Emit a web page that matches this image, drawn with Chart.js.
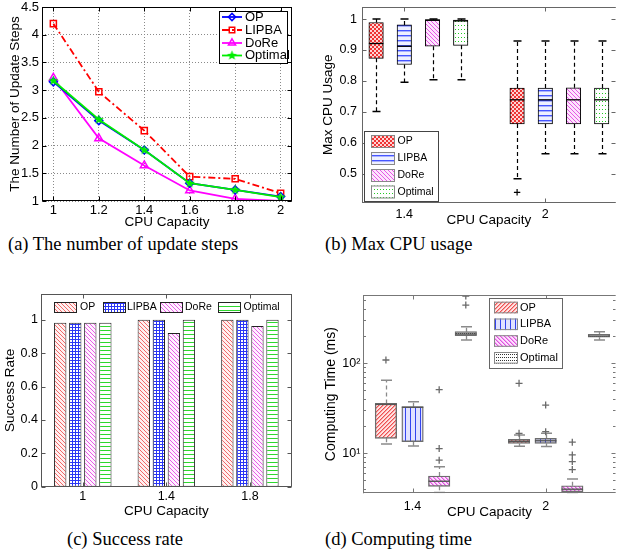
<!DOCTYPE html>
<html><head><meta charset="utf-8">
<script src="https://cdn.jsdelivr.net/npm/chart.js@4.4.1/dist/chart.umd.min.js"></script>
<style>
html,body{margin:0;padding:0;background:#fff;}
body{width:621px;height:558px;position:relative;overflow:hidden;}
canvas{position:absolute;}
.cap{position:absolute;font-family:"Liberation Serif","Times New Roman",serif;font-size:18.5px;line-height:1;white-space:nowrap;color:#000;}
</style></head><body>
<canvas id="ca" width="310" height="232" style="left:0;top:0"></canvas>
<canvas id="cb" width="311" height="232" style="left:310px;top:0"></canvas>
<canvas id="cc" width="310" height="240" style="left:0;top:282px"></canvas>
<canvas id="cd" width="311" height="240" style="left:310px;top:282px"></canvas>
<div class="cap" style="left:8px;top:235px">(a) The number of update steps</div>
<div class="cap" style="left:325px;top:235px">(b) Max CPU usage</div>
<div class="cap" style="left:67px;top:530px">(c) Success rate</div>
<div class="cap" style="left:325px;top:530px">(d) Computing time</div>
<script>
// ---------------- DATA ----------------
const methods = ['OP','LIPBA','DoRe','Optimal'];

// (a) number of update steps
const aCapacity = [1, 1.2, 1.4, 1.6, 1.8, 2];
const aXLabels  = ['1','1.2','1.4','1.6','1.8','2'];
const aYTicks   = [1, 1.5, 2, 2.5, 3, 3.5, 4, 4.5];
const aYLabels  = ['1','1.5','2','2.5','3','3.5','4','4.5'];
const aOP       = [3.15, 2.45, 1.92, 1.32, 1.20, 1.08];
const aLIPBA    = [4.20, 2.97, 2.27, 1.44, 1.40, 1.14];
const aDoRe     = [3.22, 2.13, 1.64, 1.19, 1.04, 1.00];
const aOptimal  = [3.17, 2.47, 1.92, 1.32, 1.20, 1.07];

// (b) max CPU usage, per method: [capacity 1.4, capacity 2]
const bGroups  = ['1.4','2'];
const bYTicks  = [0.5, 0.6, 0.7, 0.8, 0.9, 1];
const bYLabels = ['0.5','0.6','0.7','0.8','0.9','1'];
const bLow  = [[0.701,0.484],[0.796,0.565],[0.804,0.565],[0.804,0.565]];
const bQ1   = [[0.873,0.661],[0.853,0.661],[0.912,0.661],[0.915,0.661]];
const bMed  = [[0.921,0.739],[0.912,0.739],[0.996,0.739],[0.994,0.739]];
const bQ3   = [[0.989,0.777],[0.981,0.777],[0.998,0.778],[0.997,0.777]];
const bHigh = [[1.0,0.929],[1.0,0.929],[1.0,0.929],[1.0,0.929]];
const bOut  = [[[],[0.44]],[[],[]],[[],[]],[[],[]]];

// (c) success rate
const cCapacity = ['1','1.4','1.8'];
const cYTicks   = [0, 0.2, 0.4, 0.6, 0.8, 1];
const cYLabels  = ['0','0.2','0.4','0.6','0.8','1'];
const cOP       = [0.982, 1, 1];
const cLIPBA    = [0.982, 1, 1];
const cDoRe     = [0.982, 0.921, 0.962];
const cOptimal  = [0.982, 1, 1];

// (d) computing time (ms), per method: [capacity 1.4, capacity 2]
const dGroups = ['1.4','2'];
const dLow  = [[12.7,12.0],[12.1,11.9],[3.68,3.62],[182,182]];
const dQ1   = [[14.7,12.9],[13.5,12.9],[4.3,3.75],[203,195]];
const dMed  = [[35.0,13.6],[32.5,13.8],[4.9,4.0],[212,201]];
const dQ3   = [[35.9,14.3],[33.0,14.7],[5.6,4.37],[225,210]];
const dHigh = [[65,16.0],[37.4,16.7],[7.1,5.2],[255,225]];
const dOut  = [[[109],[16.7,60]],[[],[17.4,34.4]],[[8.4,11.3,51],[6.6,8.1,9.6,13.3]],[[444,560],[]]];
const dMajorTicks  = [10, 100];
const dMajorLabels = ['10\u00B9','10\u00B2'];

// ---------------- SETUP ----------------
Chart.defaults.font.family = '"Liberation Sans", Arial, Helvetica, sans-serif';
Chart.defaults.font.size = 13;
Chart.defaults.color = '#000';
Chart.defaults.animation = false;
Chart.defaults.events = [];
Chart.defaults.plugins.legend.display = false;
Chart.defaults.plugins.tooltip.enabled = false;

function pat(w,h,bg,draw){const c=document.createElement('canvas');c.width=w;c.height=h;const g=c.getContext('2d');g.fillStyle=bg;g.fillRect(0,0,w,h);draw(g);return g.createPattern(c,'repeat');}
const px=(g,col,pts)=>{g.fillStyle=col;pts.forEach(p=>g.fillRect(p[0],p[1],p[2]||1,p[3]||1));};
const back4=[[0,0],[1,1],[2,2],[3,3]], fwd4=[[3,0],[2,1],[1,2],[0,3]];

const bPat=[
  pat(4,4,'#ffd4d4',g=>px(g,'#ee3434',[[0,0,2,2],[2,2,2,2]])),
  pat(1,5,'#eef0ff',g=>{px(g,'#4656ff',[[0,0]]);px(g,'#a9b1ff',[[0,1]]);}),
  pat(4,4,'#fde4fd',g=>px(g,'#e55ae5',back4)),
  pat(3,4,'#ffffff',g=>px(g,'#22cc22',[[1,1]]))
];
const cPat=[
  pat(4,4,'#fff0f0',g=>px(g,'#f06a6a',back4)),
  pat(3,3,'#ffffff',g=>px(g,'#2a36f5',[[0,0,3,1],[0,0,1,3]])),
  pat(4,4,'#fff0ff',g=>px(g,'#e660e6',back4)),
  pat(1,4,'#ffffff',g=>px(g,'#2ed82e',[[0,0]]))
];
const dPat=[
  pat(4,4,'#ffe2e2',g=>{px(g,'#ee5050',fwd4);px(g,'#f7a0a0',[[0,0],[3,1],[2,2],[1,3]]);}),
  pat(5,1,'#e0e2ff',g=>px(g,'#3344ee',[[0,0]])),
  pat(4,4,'#fde0fd',g=>{px(g,'#e050e0',back4);px(g,'#f0a0f0',[[1,0],[2,1],[3,2],[0,3]]);}),
  pat(2,3,'#ffffff',g=>px(g,'#333333',[[0,0]]))
];

function starImg(col,R,r){const s=Math.ceil(R*2)+2;const c=document.createElement('canvas');c.width=c.height=s;const g=c.getContext('2d');g.fillStyle=col;g.beginPath();for(let k=0;k<10;k++){const an=-Math.PI/2+k*Math.PI/5;const rr=k%2?r:R;g.lineTo(s/2+rr*Math.cos(an),s/2+rr*Math.sin(an));}g.closePath();g.fill();return c;}
const star = starImg('#00ee00',5.2,2.2);

// ---------------- PLUGINS ----------------
const frameTicks={
  id:'frameTicks',
  afterDatasetsDraw(chart,args,o){
    if(!o||!o.color) return;
    const {ctx,chartArea:a}=chart; const xs=chart.scales.x, ys=chart.scales.y;
    const L=o.len, Lm=o.minorLen||o.len;
    const l=Math.round(a.left)+0.5, r=Math.round(a.right)-0.5, t=Math.round(a.top)+0.5, b=Math.round(a.bottom)-0.5;
    ctx.save(); ctx.lineWidth=1; ctx.strokeStyle=o.color; ctx.setLineDash([]);
    ctx.beginPath();
    xs.ticks.forEach(tk=>{const x=Math.round(xs.getPixelForValue(tk.value))+0.5;ctx.moveTo(x,b);ctx.lineTo(x,b-L);ctx.moveTo(x,t);ctx.lineTo(x,t+L);});
    ys.ticks.forEach(tk=>{const y=Math.round(ys.getPixelForValue(tk.value))+0.5;const len=tk.major===false?Lm:L;ctx.moveTo(l,y);ctx.lineTo(l+len,y);ctx.moveTo(r,y);ctx.lineTo(r-len,y);});
    ctx.stroke();
    ctx.beginPath();
    const s=o.sides;
    if(s.includes('t')){ctx.moveTo(a.left,t);ctx.lineTo(a.right,t);}
    if(s.includes('b')){ctx.moveTo(a.left,b);ctx.lineTo(a.right,b);}
    if(s.includes('l')){ctx.moveTo(l,a.top);ctx.lineTo(l,a.bottom);}
    if(s.includes('r')){ctx.moveTo(r,a.top);ctx.lineTo(r,a.bottom);}
    ctx.stroke(); ctx.restore();
  }
};

const boxWhiskers={
  id:'boxWhiskers',
  beforeDatasetsDraw(chart,args,o){
    if(!o||!o.boxes) return;
    const {ctx,chartArea:a}=chart; const xs=chart.scales.x, ys=chart.scales.y;
    ctx.save(); ctx.beginPath(); ctx.rect(a.left,a.top-2,a.right-a.left,a.bottom-a.top+2); ctx.clip();
    o.boxes.forEach(bx=>bx.x.forEach((xv,i)=>{
      const x=Math.round(xs.getPixelForValue(xv))+0.5;
      const yLo=ys.getPixelForValue(bx.lo[i]), yQ1=ys.getPixelForValue(bx.q1[i]), yQ3=ys.getPixelForValue(bx.q3[i]), yHi=ys.getPixelForValue(bx.hi[i]);
      ctx.strokeStyle=o.color; ctx.lineWidth=o.lw; ctx.setLineDash(o.dash);
      ctx.beginPath(); ctx.moveTo(x,yQ3); ctx.lineTo(x,yHi); ctx.moveTo(x,yQ1); ctx.lineTo(x,yLo); ctx.stroke();
      ctx.setLineDash([]); ctx.lineWidth=o.capW;
      ctx.beginPath(); ctx.moveTo(x-o.cap/2,yHi); ctx.lineTo(x+o.cap/2,yHi); ctx.moveTo(x-o.cap/2,yLo); ctx.lineTo(x+o.cap/2,yLo); ctx.stroke();
    }));
    ctx.restore();
  },
  afterDatasetsDraw(chart,args,o){
    if(!o||!o.boxes) return;
    const {ctx}=chart; const xs=chart.scales.x, ys=chart.scales.y;
    ctx.save(); ctx.strokeStyle=o.medColor; ctx.lineWidth=o.medW;
    o.boxes.forEach(bx=>bx.x.forEach((xv,i)=>{
      const x=xs.getPixelForValue(xv), y=ys.getPixelForValue(bx.med[i]);
      ctx.beginPath(); ctx.moveTo(x-o.boxW/2,y); ctx.lineTo(x+o.boxW/2,y); ctx.stroke();
    }));
    ctx.restore();
  }
};

const boxLegend={
  id:'boxLegend',
  afterDraw(chart,args,o){
    if(!o||!o.items) return;
    const ctx=chart.ctx; ctx.save();
    if(o.box){ctx.fillStyle='#fff';ctx.fillRect(o.box[0],o.box[1],o.box[2],o.box[3]);ctx.strokeStyle=o.boxColor;ctx.lineWidth=1;ctx.strokeRect(o.box[0]+0.5,o.box[1]+0.5,o.box[2],o.box[3]);}
    ctx.font=o.font; ctx.textBaseline='middle'; ctx.textAlign='left';
    o.items.forEach(it=>{
      if(it.line){
        ctx.strokeStyle=it.color; ctx.lineWidth=it.lw; ctx.setLineDash(it.dash||[]);
        ctx.beginPath(); ctx.moveTo(it.x1,it.y); ctx.lineTo(it.x2,it.y); ctx.stroke(); ctx.setLineDash([]);
        const mx=(it.x1+it.x2)/2;
        if(it.img){ctx.drawImage(it.img,mx-it.img.width/2,it.y-it.img.height/2);}
        else{ctx.lineWidth=it.pbw;ctx.strokeStyle=it.color;ctx.fillStyle='rgba(0,0,0,0)';Chart.helpers.drawPoint(ctx,{pointStyle:it.style,radius:it.r,rotation:0,borderWidth:it.pbw},mx,it.y);}
      } else {
        ctx.fillStyle=it.fill; ctx.fillRect(it.px,it.py,it.pw,it.ph);
        ctx.strokeStyle=it.stroke; ctx.lineWidth=1; ctx.strokeRect(it.px+0.5,it.py+0.5,it.pw-1,it.ph-1);
      }
      ctx.fillStyle='#000'; ctx.fillText(it.text,it.tx,it.y);
    });
    ctx.restore();
  }
};
const plugins=[frameTicks,boxWhiskers,boxLegend];

function fixTicks(vals){return s=>{s.ticks=vals.map(v=>({value:v}));};}
function lab(vals,labels){return v=>{const i=vals.findIndex(t=>Math.abs(t-v)<1e-9);return i<0?'':labels[i];};}
function noPad(w,h){return s=>{if(w!=null)s.width=w;if(h!=null)s.height=h;s.paddingTop=0;s.paddingBottom=0;s.paddingLeft=0;s.paddingRight=0;};}

// ---------------- (a) ----------------
const aCol={OP:'#0000ff',LIPBA:'#ff0000',DoRe:'#ff00ff',Optimal:'#00ee00'};
const aStyle={OP:['rectRot',4],LIPBA:['rect',4.3],DoRe:['triangle',4.6],Optimal:[star,4]};
const aVals={OP:aOP,LIPBA:aLIPBA,DoRe:aDoRe,Optimal:aOptimal};
const aDash={LIPBA:[7,3,2,3]};
const aOrder=['Optimal','OP','DoRe','LIPBA'];
new Chart(document.getElementById('ca'),{
  type:'line',
  data:{datasets:aOrder.map(m=>({label:m,data:aCapacity.map((x,i)=>({x,y:aVals[m][i]})),
    borderColor:aCol[m],backgroundColor:'transparent',borderWidth:1.8,borderDash:aDash[m]||[],
    pointStyle:aStyle[m][0],pointRadius:aStyle[m][1],pointBorderColor:aCol[m],pointBackgroundColor:'rgba(0,0,0,0)',pointBorderWidth:1.5,tension:0}))},
  options:{responsive:false,layout:{padding:{top:7,right:18,left:0,bottom:0}},
    scales:{
      x:{type:'linear',min:0.95,max:2.05,afterBuildTicks:fixTicks(aCapacity),afterFit:noPad(null,31),
        ticks:{autoSkip:false,maxRotation:0,padding:2,font:{size:13},callback:lab(aCapacity,aXLabels)},
        grid:{color:'#8a8a8a',lineWidth:1,drawTicks:false},border:{display:false,dash:[1,2]},
        title:{display:true,text:'CPU Capacity',font:{size:13.5,lineHeight:1.2},padding:{top:0,bottom:1.2}}},
      y:{type:'linear',min:1,max:4.5,afterBuildTicks:fixTicks(aYTicks),afterFit:noPad(42,null),
        ticks:{autoSkip:false,padding:3,font:{size:13},callback:lab(aYTicks,aYLabels)},
        grid:{color:'#8a8a8a',lineWidth:1,drawTicks:false},border:{display:false,dash:[1,2]},
        title:{display:true,text:'The Number of Update Steps',font:{size:13.5,lineHeight:1.2},padding:{top:6.9,bottom:0}}}
    },
    plugins:{
      frameTicks:{color:'#000',len:4,sides:'tblr'},
      boxLegend:{box:[219,11,68,52],boxColor:'#000',font:'13px "Liberation Sans", Arial',
        items:methods.map((m,k)=>({line:true,text:m,color:aCol[m],lw:1.8,dash:aDash[m],x1:222,x2:242,y:[17,30,43,55.5][k],tx:245,
          style:aStyle[m][0],r:aStyle[m][1]*0.9,pbw:1.5,img:m==='Optimal'?star:null}))}
    }
  },
  plugins
});

// ---------------- (b) ----------------
const posOf=(m,g)=>1+m+5*g;
const bTickPos=bGroups.map((g,gi)=>posOf(1,gi));
new Chart(document.getElementById('cb'),{
  type:'bar',
  data:{datasets:[
    ...methods.map((m,k)=>({type:'bar',label:m,data:bGroups.map((g,gi)=>({x:posOf(k,gi),y:[bQ1[k][gi],bQ3[k][gi]]})),
      backgroundColor:bPat[k],borderColor:'#000',borderWidth:1,borderSkipped:false,barThickness:14.5,grouped:false})),
    {type:'scatter',label:'outliers',data:methods.flatMap((m,k)=>bGroups.flatMap((g,gi)=>bOut[k][gi].map(v=>({x:posOf(k,gi),y:v})))),
      pointStyle:'cross',pointRadius:3.2,borderColor:'#000',borderWidth:1.2,backgroundColor:'#000'}
  ]},
  options:{responsive:false,layout:{padding:{top:7,right:0,left:0,bottom:0}},
    scales:{
      x:{type:'linear',min:0.5,max:9.5,offset:false,afterBuildTicks:fixTicks(bTickPos),afterFit:noPad(null,29.5),
        ticks:{autoSkip:false,maxRotation:0,padding:4.5,font:{size:12.5},callback:lab(bTickPos,bGroups)},
        grid:{display:false,drawTicks:false},border:{display:false},
        title:{display:true,text:'CPU Capacity',font:{size:13.5,lineHeight:1.2},padding:{top:0,bottom:3.9}}},
      y:{type:'linear',min:0.407,max:1.039,afterBuildTicks:fixTicks(bYTicks),afterFit:noPad(52,null),
        ticks:{autoSkip:false,padding:5,font:{size:12.5},callback:lab(bYTicks,bYLabels)},
        grid:{display:false,drawTicks:false},border:{display:false},
        title:{display:true,text:'Max CPU Usage',font:{size:13.5,lineHeight:1.2},padding:{top:10.2,bottom:0}}}
    },
    plugins:{
      frameTicks:{color:'#666',len:4,sides:'tbl'},
      boxWhiskers:{boxes:methods.map((m,k)=>({x:bGroups.map((g,gi)=>posOf(k,gi)),lo:bLow[k],q1:bQ1[k],med:bMed[k],q3:bQ3[k],hi:bHigh[k]})),
        color:'#000',lw:1.2,dash:[4,3],cap:8,capW:1.5,medColor:'#000',medW:1.3,boxW:14.5},
      boxLegend:{box:[54,131,74,70],boxColor:'#444',font:'10.5px "Liberation Sans", Arial',
        items:methods.map((m,k)=>({text:m,fill:bPat[k],stroke:'#888',px:61,py:[135,152,169,185.5][k],pw:24,ph:13,tx:87.5,y:[135,152,169,185.5][k]+6.5}))}
    }
  },
  plugins
});

// ---------------- (c) ----------------
const cVals=[cOP,cLIPBA,cDoRe,cOptimal];
new Chart(document.getElementById('cc'),{
  type:'bar',
  data:{labels:cCapacity,datasets:methods.map((m,k)=>({label:m,data:cVals[k],backgroundColor:cPat[k],borderColor:'#222',borderWidth:1,borderSkipped:false,
    categoryPercentage:0.72,barPercentage:0.82}))},
  options:{responsive:false,layout:{padding:{top:12,right:18.3,left:0,bottom:0}},
    scales:{
      x:{type:'category',afterFit:noPad(null,35.3),
        ticks:{autoSkip:false,maxRotation:0,padding:2.5,font:{size:12.5}},
        grid:{display:false,drawTicks:false},border:{display:false},
        title:{display:true,text:'CPU Capacity',font:{size:13.5,lineHeight:1.2},padding:{top:0,bottom:2.9}}},
      y:{type:'linear',min:0,max:1.154,afterBuildTicks:fixTicks(cYTicks),afterFit:noPad(41,null),
        ticks:{autoSkip:false,padding:3,font:{size:12.5},callback:lab(cYTicks,cYLabels)},
        grid:{display:false,drawTicks:false},border:{display:false},
        title:{display:true,text:'Success Rate',font:{size:13.5,lineHeight:1.2},padding:{top:1.9,bottom:0}}}
    },
    plugins:{
      frameTicks:{color:'#555',len:4,sides:'tblr'},
      boxLegend:{font:'10.5px "Liberation Sans", Arial',
        items:methods.map((m,k)=>({text:m,fill:cPat[k],stroke:'#222',px:[54,103,160,218][k],py:20,pw:23,ph:11,tx:[80,127,185,243.5][k],y:25.5}))}
    }
  },
  plugins
});

// ---------------- (d) ----------------
const dTicks=[];
[1,10,100].forEach(dec=>{for(let k=1;k<=9;k++){const v=k*dec;if(v>=3.6&&v<=575)dTicks.push(v);}});
const dTickPos=dGroups.map((g,gi)=>posOf(1,gi));
new Chart(document.getElementById('cd'),{
  type:'bar',
  data:{datasets:[
    ...methods.map((m,k)=>({type:'bar',label:m,data:dGroups.map((g,gi)=>({x:posOf(k,gi),y:[dQ1[k][gi],dQ3[k][gi]]})),
      backgroundColor:dPat[k],borderColor:'#6e6e6e',borderWidth:1.4,borderSkipped:false,barThickness:21.5,grouped:false})),
    {type:'scatter',label:'outliers',data:methods.flatMap((m,k)=>dGroups.flatMap((g,gi)=>dOut[k][gi].map(v=>({x:posOf(k,gi),y:v})))),
      pointStyle:'cross',pointRadius:3.5,borderColor:'#6a6a6a',borderWidth:1.3,backgroundColor:'#6a6a6a'}
  ]},
  options:{responsive:false,layout:{padding:{top:13,right:0,left:0,bottom:0}},
    scales:{
      x:{type:'linear',min:0.15,max:9.63,offset:false,afterBuildTicks:fixTicks(dTickPos),afterFit:noPad(null,28.7),
        ticks:{autoSkip:false,maxRotation:0,padding:6.2,font:{size:12.5},callback:lab(dTickPos,dGroups)},
        grid:{display:false,drawTicks:false},border:{display:false},
        title:{display:true,text:'CPU Capacity',font:{size:13.5,lineHeight:1.2},padding:{top:0,bottom:1.9}}},
      y:{type:'logarithmic',min:3.6,max:575,
        afterBuildTicks:s=>{s.ticks=dTicks.map(v=>({value:v,major:dMajorTicks.includes(v)}));},afterFit:noPad(53.3,null),
        ticks:{autoSkip:false,padding:3,font:{size:12.5},callback:lab(dMajorTicks,dMajorLabels)},
        grid:{display:false,drawTicks:false},border:{display:false},
        title:{display:true,text:'Computing Time (ms)',font:{size:14,lineHeight:1.2},padding:{top:12.3,bottom:0}}}
    },
    plugins:{
      frameTicks:{color:'#777',len:4,minorLen:2.5,sides:'tbl'},
      boxWhiskers:{boxes:methods.map((m,k)=>({x:dGroups.map((g,gi)=>posOf(k,gi)),lo:dLow[k],q1:dQ1[k],med:dMed[k],q3:dQ3[k],hi:dHigh[k]})),
        color:'#8a8a8a',lw:1.3,dash:[4,3],cap:11,capW:1.5,medColor:'#555',medW:1.4,boxW:21.5},
      boxLegend:{box:[179,16,73,70],boxColor:'#666',font:'11px "Liberation Sans", Arial',
        items:methods.map((m,k)=>({text:m,fill:dPat[k],stroke:'#888',px:184,py:[25.5,42.3,59,75.8][k]-5.8,pw:24,ph:11.6,tx:210,y:[25.5,42.3,59,75.8][k]}))}
    }
  },
  plugins
});
</script>
</body></html>
